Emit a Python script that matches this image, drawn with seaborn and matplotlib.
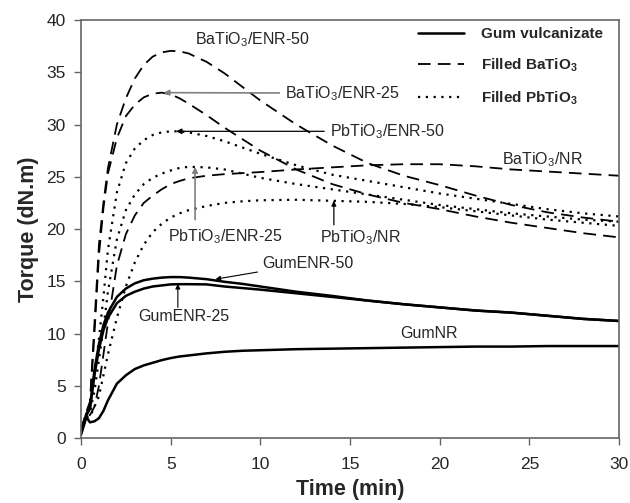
import matplotlib
matplotlib.use("Agg")
import matplotlib.pyplot as plt
from matplotlib.lines import Line2D
import seaborn as sns
import pandas as pd

sns.set_style("ticks")
plt.rcParams['font.family'] = ['Liberation Sans', 'DejaVu Sans']
plt.rcParams['mathtext.fontset'] = 'custom'
plt.rcParams['mathtext.rm'] = 'Liberation Sans'
plt.rcParams['mathtext.bf'] = 'Liberation Sans:bold'

# ---------------- data ----------------
time_min = [0, 0.3, 0.5, 0.75, 1, 1.25, 1.5, 2, 2.5, 3, 3.5, 4, 4.5, 5, 5.5, 6,
            7, 8, 9, 10, 12, 14, 16, 18, 20, 22, 24, 26, 28, 30]

gum_nr = [0.3, 2.0, 1.5, 1.6, 1.9, 2.6, 3.6, 5.2, 6.0, 6.6, 6.95, 7.2, 7.45, 7.65, 7.8, 7.9,
          8.1, 8.25, 8.35, 8.4, 8.5, 8.55, 8.6, 8.65, 8.7, 8.75, 8.75, 8.8, 8.8, 8.8]
gum_enr50 = [0.5, 2.3, 3.0, 6.5, 9.0, 10.8, 12.0, 13.5, 14.3, 14.8, 15.1, 15.25, 15.35, 15.4, 15.4, 15.35,
             15.2, 14.95, 14.75, 14.5, 14.0, 13.6, 13.15, 12.8, 12.5, 12.2, 12.0, 11.7, 11.4, 11.2]
gum_enr25 = [0.5, 2.2, 2.8, 6.0, 8.5, 10.3, 11.5, 12.9, 13.6, 14.0, 14.3, 14.5, 14.6, 14.7, 14.72, 14.72,
             14.7, 14.5, 14.35, 14.2, 13.85, 13.5, 13.15, 12.8, 12.5, 12.2, 12.0, 11.7, 11.4, 11.2]

ba_enr50 = [0.8, 2.5, 3.5, 11.0, 18.5, 22.5, 25.8, 30.0, 32.5, 34.4, 35.7, 36.5, 36.9, 37.05, 37.0, 36.8,
            36.0, 34.9, 33.6, 32.3, 30.0, 28.0, 26.3, 25.1, 24.2, 23.2, 22.3, 21.6, 21.1, 20.7]
ba_enr25 = [0.8, 2.4, 3.3, 10.0, 17.5, 22.0, 25.3, 28.7, 30.8, 31.9, 32.6, 32.95, 33.05, 32.9, 32.5, 32.0,
            30.9, 29.7, 28.6, 27.5, 25.7, 24.3, 23.3, 22.5, 21.9, 21.2, 20.6, 20.1, 19.6, 19.2]
ba_nr = [0.6, 2.2, 2.2, 3.0, 5.0, 8.0, 11.0, 16.5, 19.5, 21.3, 22.5, 23.2, 23.8, 24.3, 24.6, 24.85,
         25.1, 25.25, 25.35, 25.45, 25.7, 25.9, 26.1, 26.2, 26.2, 26.0, 25.7, 25.5, 25.3, 25.1]

pb_enr50 = [0.7, 2.3, 2.8, 6.0, 9.5, 13.5, 18.0, 23.5, 26.3, 27.7, 28.5, 29.0, 29.25, 29.35, 29.35, 29.25,
            28.9, 28.4, 27.8, 27.2, 26.1, 25.2, 24.6, 24.0, 23.4, 22.9, 22.4, 21.9, 21.5, 21.2]
pb_enr25 = [0.7, 2.2, 2.5, 4.5, 7.5, 10.5, 14.0, 19.0, 21.8, 23.3, 24.3, 24.9, 25.3, 25.6, 25.85, 25.95,
            25.9, 25.7, 25.3, 24.9, 24.3, 23.8, 23.3, 22.8, 22.3, 21.9, 21.5, 21.2, 20.9, 20.7]
pb_nr = [0.6, 2.0, 2.0, 3.0, 4.0, 6.0, 8.0, 11.5, 14.5, 16.8, 18.5, 19.7, 20.5, 21.1, 21.5, 21.8,
         22.2, 22.5, 22.65, 22.75, 22.8, 22.7, 22.6, 22.4, 22.1, 21.7, 21.3, 20.9, 20.6, 20.3]

series = {
    "GumNR": (gum_nr, "solid"),
    "GumENR-50": (gum_enr50, "solid"),
    "GumENR-25": (gum_enr25, "solid"),
    "BaTiO3/ENR-50": (ba_enr50, "dashed"),
    "BaTiO3/ENR-25": (ba_enr25, "dashed"),
    "BaTiO3/NR": (ba_nr, "dashed"),
    "PbTiO3/ENR-50": (pb_enr50, "dotted"),
    "PbTiO3/ENR-25": (pb_enr25, "dotted"),
    "PbTiO3/NR": (pb_nr, "dotted"),
}

legend_labels = ["Gum vulcanizate", r"Filled BaTiO$_\mathbf{3}$", r"Filled PbTiO$_\mathbf{3}$"]

# ---------------- figure ----------------
fig = plt.figure(figsize=(6.3, 5.03), dpi=100)
ax = fig.add_axes([0.1286, 0.1292, 0.8539, 0.8310])

styles = {"solid": dict(linestyle="-", linewidth=1.8),
          "dashed": dict(linestyle=(0, (7, 4)), linewidth=1.3),
          "dotted": dict(linestyle=(0, (1, 2.5)), linewidth=1.6)}

for name, (vals, st) in series.items():
    df = pd.DataFrame({"t": time_min, "v": vals})
    sns.lineplot(data=df, x="t", y="v", ax=ax, color="black", legend=False, **styles[st])

ax.set_xlim(0, 30)
ax.set_ylim(0, 40)
ax.set_xticks(range(0, 31, 5))
ax.set_yticks(range(0, 41, 5))
ax.tick_params(direction="out", length=5, width=1, color="#666666", labelsize=12.5)
ax.tick_params(axis="x", pad=9)
ax.tick_params(axis="y", pad=6)
for sp in ax.spines.values():
    sp.set_visible(True)
    sp.set_color("#666666")
    sp.set_linewidth(1.2)
ax.set_xlabel("Time (min)", fontsize=15.5, fontweight="bold", labelpad=5)
ax.set_ylabel("Torque (dN.m)", fontsize=15.5, fontweight="bold", labelpad=5)

# legend
handles = [Line2D([], [], color="black", **styles[s]) for s in ["solid", "dashed", "dotted"]]
leg = ax.legend(handles, legend_labels, loc="upper right", bbox_to_anchor=(0.995, 1.015),
                frameon=False, handlelength=3.0, labelspacing=1.0, handletextpad=1.1,
                prop={"weight": "bold", "size": 11})

# annotations
fs = 11.5
ax.text(9.55, 38.1, r"BaTiO$_3$/ENR-50", fontsize=fs, ha="center", va="center")
ax.annotate(r"BaTiO$_3$/ENR-25", xy=(4.6, 33.05), xytext=(11.4, 33.0), fontsize=fs, va="center",
            arrowprops=dict(arrowstyle="-|>", color="#808080", lw=1.2, mutation_scale=8,
                            shrinkA=2, shrinkB=0))
ax.annotate(r"PbTiO$_3$/ENR-50", xy=(5.3, 29.35), xytext=(13.9, 29.35), fontsize=fs, va="center",
            arrowprops=dict(arrowstyle="-|>", color="black", lw=0.9, mutation_scale=8,
                            shrinkA=2, shrinkB=0))
ax.text(23.5, 26.6, r"BaTiO$_3$/NR", fontsize=fs, ha="left", va="center")
ax.annotate("", xy=(6.36, 25.95), xytext=(6.36, 20.9),
            arrowprops=dict(arrowstyle="-|>", color="#808080", lw=1.2, mutation_scale=8,
                            shrinkA=0, shrinkB=0))
ax.text(4.85, 19.3, r"PbTiO$_3$/ENR-25", fontsize=fs, ha="left", va="center")
ax.annotate("", xy=(14.1, 22.7), xytext=(14.1, 20.4),
            arrowprops=dict(arrowstyle="-|>", color="black", lw=0.9, mutation_scale=7,
                            shrinkA=0, shrinkB=0))
ax.text(13.3, 19.2, r"PbTiO$_3$/NR", fontsize=fs, ha="left", va="center")
ax.annotate("GumENR-50", xy=(7.5, 15.2), xytext=(10.1, 16.7), fontsize=fs, va="center",
            arrowprops=dict(arrowstyle="-|>", color="black", lw=0.8, mutation_scale=7,
                            shrinkA=1, shrinkB=0))
ax.annotate("", xy=(5.4, 14.75), xytext=(5.4, 12.5),
            arrowprops=dict(arrowstyle="-|>", color="black", lw=0.8, mutation_scale=7,
                            shrinkA=0, shrinkB=0))
ax.text(3.2, 11.6, "GumENR-25", fontsize=fs, ha="left", va="center")
ax.text(17.8, 10.0, "GumNR", fontsize=fs, ha="left", va="center")

fig.savefig("out.png", dpi=100)
